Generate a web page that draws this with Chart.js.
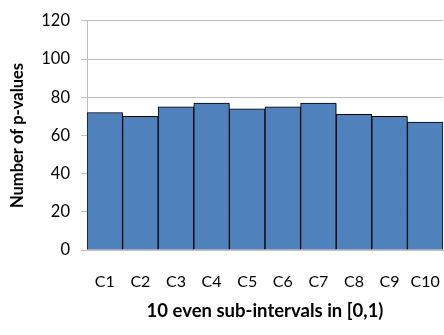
<!DOCTYPE html>
<html>
<head>
<meta charset="utf-8">
<script src="https://cdn.jsdelivr.net/npm/chart.js@4/dist/chart.umd.min.js"></script>
<style>
  html, body { margin: 0; padding: 0; background: #ffffff; }
  #wrap { width: 444px; height: 335px; }
</style>
</head>
<body>
<div id="wrap"><canvas id="c" width="444" height="335"></canvas></div>
<script>
const categories = ['C1', 'C2', 'C3', 'C4', 'C5', 'C6', 'C7', 'C8', 'C9', 'C10'];
const counts = [72, 70, 75, 77, 74, 75, 77, 71, 70, 67];
const yTicks = [0, 20, 40, 60, 80, 100, 120];

const FONT = 'Lato, "Open Sans", sans-serif';

// soft drop shadow behind the bars
const barShadow = {
  id: 'barShadow',
  beforeDatasetsDraw(chart) {
    const ctx = chart.ctx;
    ctx.save();
    ctx.shadowColor = 'rgba(0,0,0,0.45)';
    ctx.shadowOffsetX = 2;
    ctx.shadowOffsetY = 1;
    ctx.shadowBlur = 2;
  },
  afterDatasetsDraw(chart) {
    chart.ctx.restore();
  }
};

new Chart(document.getElementById('c'), {
  type: 'bar',
  data: {
    labels: categories,
    datasets: [{
      data: counts,
      backgroundColor: '#4F81BD',
      borderColor: '#000000',
      borderWidth: 1,
      barPercentage: 1,
      categoryPercentage: 1
    }]
  },
  plugins: [barShadow],
  options: {
    responsive: false,
    animation: false,
    layout: { padding: { top: 16, right: 1, left: 0, bottom: 0 } },
    plugins: { legend: { display: false }, tooltip: { enabled: false } },
    scales: {
      x: {
        afterFit(axis) { axis.height = 85; },
        // invisible tick marks keep the labels clear of the axis
        grid: { display: false, drawTicks: true, tickLength: 20, tickColor: 'rgba(0,0,0,0)' },
        border: { display: true, color: '#BFBFBF', width: 1 },
        ticks: { color: '#000', font: { family: FONT, size: 16 }, padding: 2, maxRotation: 0 },
        title: { display: true, text: '10 even sub-intervals in [0,1)', color: '#000',
                 font: { family: FONT, size: 18.5, weight: 'bold' }, padding: { top: 0, bottom: 13 } }
      },
      y: {
        min: 0, max: 120,
        afterFit(axis) { axis.width = 87; },
        afterBuildTicks(axis) { axis.ticks = yTicks.map(v => ({ value: v })); },
        grid: { color: '#BFBFBF', lineWidth: 1, drawTicks: true, tickLength: 6, tickColor: '#BFBFBF' },
        border: { display: true, color: '#BFBFBF', width: 1 },
        ticks: { color: '#000', font: { family: FONT, size: 16.5 }, padding: 11 },
        title: { display: true, text: 'Number of p-values', color: '#000',
                 font: { family: FONT, size: 16.5, weight: 'bold' }, padding: { top: 8, bottom: 0 } }
      }
    }
  }
});
</script>
</body>
</html>
